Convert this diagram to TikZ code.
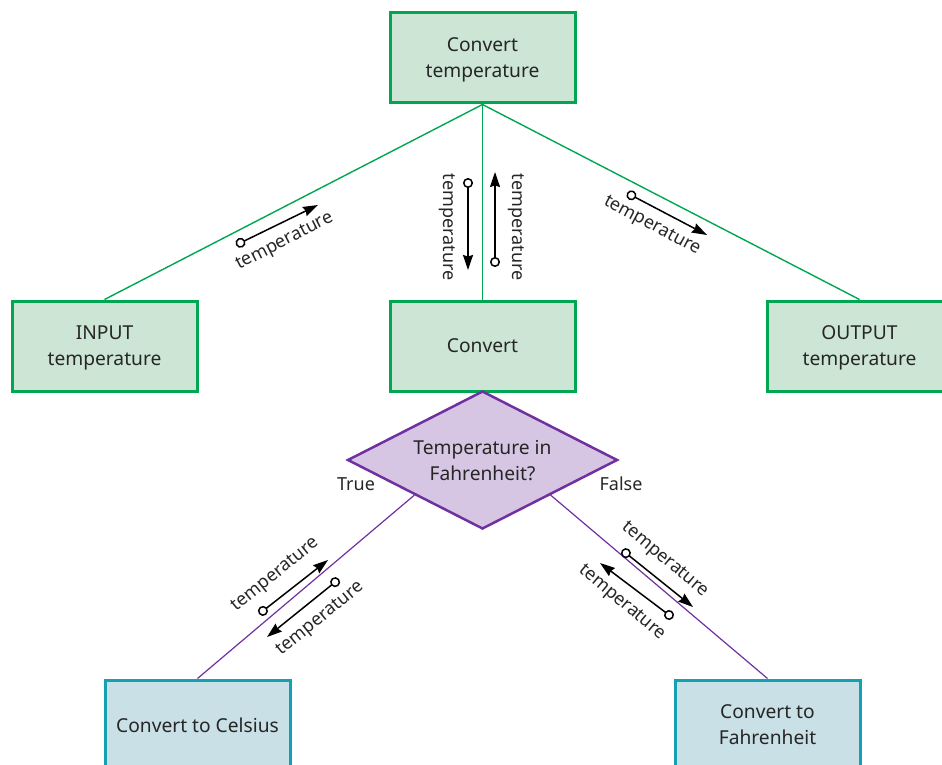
\documentclass[tikz,border=0pt]{standalone}
\usepackage{fontspec}
\setmainfont{Noto Sans}
\usetikzlibrary{arrows.meta,shapes.geometric}

\definecolor{modgreen}{RGB}{0,166,81}
\definecolor{modfill}{RGB}{204,229,212}
\definecolor{decpurple}{RGB}{112,48,160}
\definecolor{decfill}{RGB}{214,198,227}
\definecolor{subteal}{RGB}{22,160,180}
\definecolor{subfill}{RGB}{201,224,230}

\begin{document}
\begin{tikzpicture}[
    x=1pt, y=-1pt,
    font=\fontsize{19.2}{26}\selectfont,
    module/.style  ={rectangle, draw=modgreen, line width=3pt, fill=modfill,
                     minimum width=185pt, minimum height=90pt, align=center,
                     inner sep=0pt, text depth=0pt, text=black!85},
    submod/.style  ={module, draw=subteal, fill=subfill},
    decide/.style  ={diamond, draw=decpurple, line width=2.5pt, fill=decfill,
                     minimum width=270pt, minimum height=138pt, aspect=2,
                     inner sep=0pt, text depth=0pt, align=center, text=black!85},
    link/.style    ={draw=modgreen, line width=1.4pt},
    plink/.style   ={draw=decpurple, line width=1.2pt},
    couple/.style  ={line width=1.5pt,
                     {Circle[open,length=10pt,width=10pt]}-{Stealth[length=15pt,width=10pt,inset=1.5pt]}},
    lbl/.style     ={font=\fontsize{18}{22}\selectfont, inner sep=0pt, text=black!85},
]
\path[use as bounding box, clip] (0,0) rectangle (942,765);

% ----------------------------------------------------------------------
%  modules of the structure chart
% ----------------------------------------------------------------------
\node[module] (top)    at (482.5,58)  {Convert\\temperature};
\node[module] (input)  at (104.5,346) {INPUT\\temperature};
\node[module] (conv)   at (482.5,346) {Convert};
\node[module] (output) at (859.5,346) {OUTPUT\\temperature};

\node[decide] (fahr) at (482.5,460) {Temperature in\\Fahrenheit?};

\node[submod] (tocel)  at (197.5,725) {Convert to Celsius};
\node[submod] (tofahr) at (767.5,725) {Convert to\\Fahrenheit};

\node[lbl] (true)  at (356,484) {True};
\node[lbl] (false) at (621,484) {False};

% --- links ---
\draw[link] (top.south) -- (input.north);
\draw[link] (top.south) -- (conv.north);
\draw[link] (top.south) -- (output.north);

\draw[plink] (fahr.south west) -- (tocel.north);
\draw[plink] (fahr.south east) -- (tofahr.north);

% ----------------------------------------------------------------------
%  data couples
% ----------------------------------------------------------------------
\coordinate (in1) at (236,245);  \coordinate (in2) at (318,205);
\coordinate (dn1) at (468,178);  \coordinate (dn2) at (468,270);
\coordinate (up1) at (495,267);  \coordinate (up2) at (495,172);
\coordinate (ou1) at (627,193);  \coordinate (ou2) at (707,235);
\coordinate (cA1) at (259,614);  \coordinate (cA2) at (328,560);
\coordinate (cB1) at (339,579);  \coordinate (cB2) at (267,637);
\coordinate (fA1) at (622,550);  \coordinate (fA2) at (693,607);
\coordinate (fB1) at (673,618);  \coordinate (fB2) at (600,563);

\draw[couple] (in1) -- (in2);
\draw[couple] (dn1) -- (dn2);
\draw[couple] (up1) -- (up2);
\draw[couple] (ou1) -- (ou2);
\draw[couple] (cA1) -- (cA2);
\draw[couple] (cB1) -- (cB2);
\draw[couple] (fA1) -- (fA2);
\draw[couple] (fB1) -- (fB2);

\node[lbl, rotate=27]  (tin)  at (285,242) {temperature};
\node[lbl, rotate=-90] (tdn)  at (447,227) {temperature};
\node[lbl, rotate=-90] (tup)  at (516,227) {temperature};
\node[lbl, rotate=-28] (tout) at (652,226) {temperature};
\node[lbl, rotate=39]  (tcA)  at (276,575) {temperature};
\node[lbl, rotate=39]  (tcB)  at (321,619) {temperature};
\node[lbl, rotate=-40] (tfA)  at (665,560) {temperature};
\node[lbl, rotate=-40] (tfB)  at (622,603) {temperature};

\end{tikzpicture}
\end{document}
